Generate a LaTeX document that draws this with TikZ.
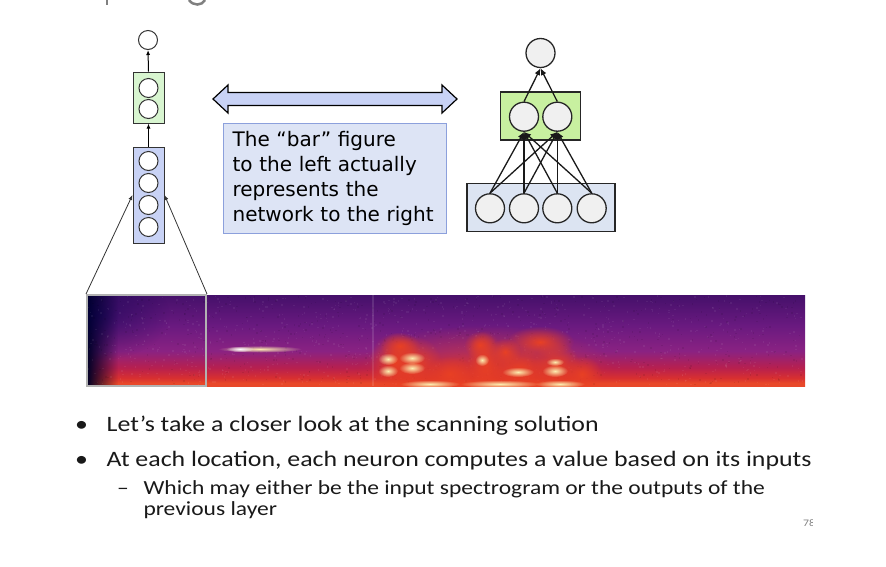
\documentclass[tikz,border=0pt]{standalone}
\usepackage{fontspec}
\setmainfont{Carlito}[FakeStretch=1.175]
\newfontfamily\notefont{DejaVu Sans}
\usetikzlibrary{arrows.meta,fadings}
\definecolor{barblue}{HTML}{C8D2F5}
\definecolor{bargreen}{HTML}{D8F5D0}
\definecolor{netgreen}{HTML}{C8F0A0}
\definecolor{netblue}{HTML}{DCE4F2}
\definecolor{notefill}{HTML}{DDE4F5}
\definecolor{noteline}{HTML}{8CA0DC}
\definecolor{nodegray}{HTML}{F0F0F0}
\definecolor{sptop}{HTML}{45106A}
\definecolor{sppur}{HTML}{6A1A80}
\definecolor{spmid}{HTML}{8A2282}
\definecolor{spmag}{HTML}{B8204E}
\definecolor{spred}{HTML}{D83030}
\definecolor{spbot}{HTML}{E8482A}
\definecolor{spyel}{HTML}{FCEDB0}
\definecolor{sporg}{HTML}{E84024}
\pgfdeclareverticalshading{specshade}{100bp}{color(0bp)=(spbot); color(25bp)=(spbot);
  color(26.6bp)=(spbot); color(29.4bp)=(spred); color(34.9bp)=(spmag);
  color(44.2bp)=(spmid); color(58bp)=(sppur); color(75bp)=(sptop); color(100bp)=(sptop)}
\tikzfading[name=fadeR, left color=transparent!0, right color=transparent!100]
\tikzfading[name=softblob, inner color=transparent!0, outer color=transparent!100]
\tikzset{
  neuron/.style={circle, draw=black!80, fill=white, line width=1pt, minimum size=19pt, inner sep=0pt},
  bigneuron/.style={circle, draw=black!85, fill=nodegray, line width=1.3pt, minimum size=29pt, inner sep=0pt},
  layerbox/.style={draw=black!80, line width=1pt, inner sep=0pt},
  arr/.style={-{Latex[length=5pt,width=4pt]}, line width=1pt},
  bigarr/.style={-{Latex[length=7pt,width=6pt]}, line width=1.3pt, black!90},
  blob/.style={path fading=softblob},
  bullettext/.style={anchor=base west, inner sep=0pt, text=black!90, font=\fontsize{22}{26}\selectfont},
  subtext/.style={anchor=base west, inner sep=0pt, text=black!90, font=\fontsize{20}{24}\selectfont}
}
\begin{document}
\begin{tikzpicture}[x=1pt, y=-1pt]
\useasboundingbox (0,0) rectangle (886,566);
% cut off title
\draw[gray, line width=2.5pt] (107,-2) -- (107,5);
\draw[gray, line width=2.5pt] (189,0) .. controls (193,6) and (202,6) .. (205,0);

% bar figure
\node[neuron] (out) at (148,40) {};
\node[layerbox, fill=bargreen, minimum width=31pt, minimum height=51pt] (gbar) at (148.5,97.5) {};
\node[layerbox, fill=barblue, minimum width=31pt, minimum height=96pt] (bbar) at (148.5,195) {};
\foreach \y [count=\i] in {88,109} \node[neuron] (g\i) at (148.5,\y) {};
\foreach \y [count=\i] in {161,183,205,227} \node[neuron] (b\i) at (148.5,\y) {};
\draw[arr] (gbar.north) -- (out.south);
\draw[arr] (bbar.north) -- (gbar.south);

% double arrow
\draw[fill=barblue, line width=1.2pt, line join=miter] (213,99) -- (228,85) -- (228,92.5) -- (442,92.5) -- (442,85)
  -- (457,99) -- (442,113) -- (442,105.5) -- (228,105.5) -- (228,113) -- cycle;

% note
\node[draw=noteline, fill=notefill, line width=1.2pt, anchor=north west, minimum width=223pt, minimum height=110pt,
  text width=205pt, inner xsep=9pt, align=left, font=\notefont\fontsize{20}{25}\selectfont] (note) at (223,123)
  {The “bar” figure\\to the left actually\\represents the\\network to the right};

% network to the right
\node[bigneuron] (top) at (540.5,53) {};
\node[layerbox, draw=black!85, line width=1.3pt, fill=netgreen, minimum width=80pt, minimum height=48pt] (hbox) at (540.7,116) {};
\node[layerbox, draw=black!85, line width=1.3pt, fill=netblue, minimum width=148pt, minimum height=48pt] (xbox) at (541,207.5) {};
\foreach \x [count=\i] in {524,557.3} \node[bigneuron] (h\i) at (\x,116.7) {};
\foreach \x [count=\i] in {490,524,557.3,591.7} \node[bigneuron] (x\i) at (\x,208.3) {};
\foreach \i in {1,...,4}
  \foreach \j in {1,2}
    \draw[bigarr] (x\i.north) -- (h\j.south);
\draw[bigarr] (h1.north) -- (top.south);
\draw[bigarr] (h2.north) -- (top.south);

% spectrogram
\begin{scope}
\clip (87,295) rectangle (805,386);
\shade[shading=specshade] (87,295) rectangle (805,386);
\fill[black!85!blue, path fading=fadeR] (87,295) rectangle (118,386);
\fill[black!70!blue, opacity=0.45, blob] (100,315) ellipse (70 and 45);
\pgfmathsetseed{7}
\foreach \k in {1,...,900} {
  \pgfmathsetmacro\rx{87+716*rnd}
  \pgfmathsetmacro\ry{295+89*rnd}
  \fill[white, opacity=0.06] (\rx,\ry) rectangle +(1.5,1.5);
}
\foreach \k in {1,...,600} {
  \pgfmathsetmacro\rx{87+716*rnd}
  \pgfmathsetmacro\ry{295+89*rnd}
  \fill[black, opacity=0.08] (\rx,\ry) rectangle +(1.5,1.5);
}
\fill[white, opacity=0.12] (372,295) rectangle (374,386);
% speech blobs
\fill[sporg, opacity=0.7, blob] (485,370) ellipse (130 and 45);
\foreach \cx/\cy/\rw/\rh in {395/362/26/30, 414/364/28/28, 485/362/18/32, 520/370/30/22, 556/367/24/26,
  540/342/34/16, 400/346/20/14, 582/374/20/18, 450/374/26/18, 505/352/16/14, 480/345/16/14}
  \fill[sporg, blob] (\cx,\cy) ellipse ({\rw} and {\rh});
\foreach \cx/\cy/\rw/\rh in {388/359/10/6, 412/358/13/6, 388/371/10/6, 412/368/13/6, 482/360/7/6,
  518/372/16/5, 555/371/13/6, 555/362/9/4, 430/384/30/4, 500/384/40/4, 560/384/25/4}
  \fill[spyel, blob] (\cx,\cy) ellipse ({\rw} and {\rh});
\fill[spyel, blob] (260,349) ellipse (42 and 3.5);
\fill[white, blob] (240,349) ellipse (14 and 3);
\end{scope}
% scanning window
\node[draw=black!30, line width=2pt, minimum width=119pt, minimum height=91pt, inner sep=0pt] (win) at (146.5,340.5) {};
\draw[arr, line width=0.8pt, black!80] (win.north west) -- (bbar.west);
\draw[arr, line width=0.8pt, black!80] (win.north east) -- (bbar.east);

% bullets
\node[bullettext, anchor=base] (d1) at (81.5,431) {•};
\node[bullettext] (t1) at (106.5,431) {Let’s take a closer look at the scanning solution};
\node[bullettext, anchor=base] (d2) at (81.5,466) {•};
\node[bullettext] (t2) at (106.5,466) {At each location, each neuron computes a value based on its inputs};
\node[subtext, anchor=base] (d3) at (123,494.5) {–};
\node[subtext] (t3) at (143.3,494.5) {Which may either be the input spectrogram or the outputs of the};
\node[subtext] (t4) at (143.3,515.5) {previous layer};
\begin{scope}
\clip (790,510) rectangle (812,535);
\node[gray, anchor=base west, inner sep=0pt, font=\fontsize{10}{12}\selectfont] (pg) at (803,526) {78};
\end{scope}
\end{tikzpicture}
\end{document}
